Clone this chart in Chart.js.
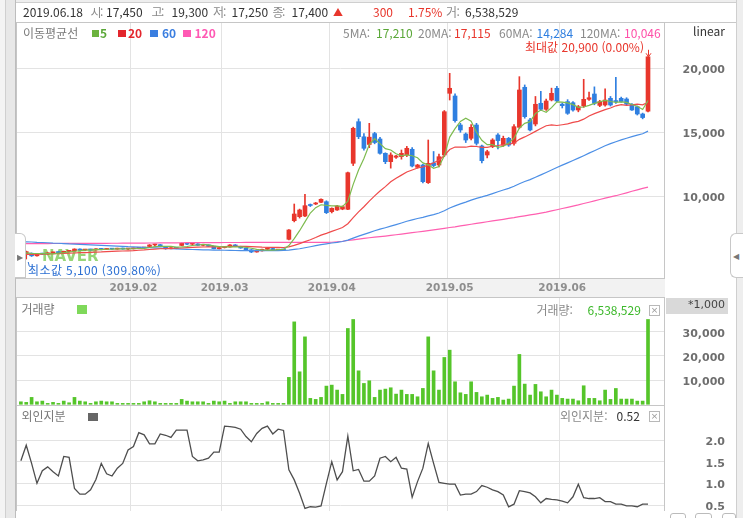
<!DOCTYPE html>
<html lang="ko"><head><meta charset="utf-8">
<script src="https://cdn.jsdelivr.net/npm/chart.js@4.4.1/dist/chart.umd.min.js"></script>
<style>
*{box-sizing:border-box}
html,body{margin:0;padding:0;background:#fff;}
#wrap{position:relative;width:743px;height:518px;overflow:hidden;background:#fff;}
.bg{position:absolute;}
canvas{position:absolute;left:0;z-index:2;}
.t{position:absolute;z-index:4;font-family:"Noto Sans CJK KR","Noto Sans",sans-serif;font-size:12px;line-height:14px;white-space:nowrap;}
.sq{position:absolute;z-index:4;}
.xb{position:absolute;z-index:4;width:11px;height:11px;border:1px solid #b8b8b8;background:#fff;font:9px/9px "DejaVu Sans";color:#999;text-align:center;}
.tab{position:absolute;z-index:5;background:#fff;border:1px solid #c8c8c8;font:8px/8px "DejaVu Sans";color:#777;}
</style></head><body><div id="wrap">
 <div class="bg" style="left:0;top:0;width:743px;height:3px;background:#eeeeee;border-bottom:1px solid #cfcfcf"></div>
 <div class="bg" style="left:0;top:0;width:6px;height:518px;background:#f4f4f4;border-right:1px solid #d0d0d0"></div>
 <div class="bg" style="left:6px;top:0;width:10px;height:518px;background:#e8e8e8;border-right:1px solid #bdbdbd"></div>
 <div class="bg" style="left:736px;top:0;width:7px;height:518px;background:#eeeeee;border-left:1px solid #cfcfcf"></div>
 <div class="bg" style="left:16px;top:22px;width:720px;height:1px;background:#c8c8c8"></div>
 <div class="bg" style="left:16px;top:278px;width:649px;height:19px;background:#f2f2f2"></div>
 <div class="bg" style="left:666px;top:298px;width:62px;height:16px;background:#d9d9d9;z-index:3"></div>
 <canvas id="cMain" width="743" height="300" style="top:0"></canvas>
 <canvas id="cVol" width="743" height="108" style="top:297px"></canvas>
 <canvas id="cFrg" width="743" height="106" style="top:405px"></canvas>
 <div class="tab" style="left:15px;top:233px;width:11px;height:45px;border-left:none;border-radius:0 6px 0 0;padding:20px 0 0 2px">&#9654;</div>
 <div class="tab" style="left:730px;top:233px;width:13px;height:45px;border-right:none;border-radius:6px 0 0 6px;padding:19px 0 0 2px">&#9664;</div>
 <div class="bg" style="left:670px;top:513px;width:16px;height:8px;border:1px solid #bbb;border-radius:3px;z-index:3"></div>
 <div class="bg" style="left:695px;top:513px;width:17px;height:8px;border:1px solid #bbb;border-radius:3px;z-index:3"></div>
 <div class="bg" style="left:722px;top:513px;width:14px;height:8px;border:1px solid #bbb;border-radius:3px;z-index:3"></div>
</div>
<script>
// ---------------- DATA ----------------
const dates = [
 "2019.01.03","2019.01.04","2019.01.07","2019.01.08","2019.01.09","2019.01.10","2019.01.11","2019.01.14","2019.01.15","2019.01.16",
 "2019.01.17","2019.01.18","2019.01.21","2019.01.22","2019.01.23","2019.01.24","2019.01.25","2019.01.28","2019.01.29","2019.01.30","2019.01.31",
 "2019.02.01","2019.02.07","2019.02.08","2019.02.11","2019.02.12","2019.02.13","2019.02.14","2019.02.15","2019.02.18","2019.02.19",
 "2019.02.20","2019.02.21","2019.02.22","2019.02.25","2019.02.26","2019.02.27","2019.02.28",
 "2019.03.04","2019.03.05","2019.03.06","2019.03.07","2019.03.08","2019.03.11","2019.03.12","2019.03.13","2019.03.14","2019.03.15",
 "2019.03.18","2019.03.19","2019.03.20","2019.03.21","2019.03.22","2019.03.25","2019.03.26","2019.03.27","2019.03.28","2019.03.29",
 "2019.04.01","2019.04.02","2019.04.03","2019.04.04","2019.04.05","2019.04.08","2019.04.09","2019.04.10","2019.04.11","2019.04.12",
 "2019.04.15","2019.04.16","2019.04.17","2019.04.18","2019.04.19","2019.04.22","2019.04.23","2019.04.24","2019.04.25","2019.04.26","2019.04.29","2019.04.30",
 "2019.05.02","2019.05.03","2019.05.07","2019.05.08","2019.05.09","2019.05.10","2019.05.13","2019.05.14","2019.05.15","2019.05.16",
 "2019.05.17","2019.05.20","2019.05.21","2019.05.22","2019.05.23","2019.05.24","2019.05.27","2019.05.28","2019.05.29","2019.05.30","2019.05.31",
 "2019.06.03","2019.06.04","2019.06.05","2019.06.07","2019.06.10","2019.06.11","2019.06.12","2019.06.13","2019.06.14","2019.06.17",
 "2019.06.18","2019.06.19","2019.06.20","2019.06.21","2019.06.24","2019.06.25","2019.06.26"
];
const openP = [
 5550,5500,5550,5350,5500,5480,5580,5620,5600,5700, 5740,5880,5800,5840,5810,5900,5850,5910,5870,5930,
 5880,5900,5940,5960,6080,6200,6220,6060,5900,5970, 6160,6330,6260,6280,6170,6200,6100,5900,5990,6040,
 6200,6080,5960,5820,5650,5740,5860,5920,5800,5840, 6640,8094,8406,8461,9350,9400,9531,9578,8800,8930,
 9000,8984,12578,15828,14650,14050,14900,14477,13359,12703, 13050,13094,13227,13672,12265,12445,11063,12600,12445,13227,
 18047,17836,15570,14867,14531,15570,13930,13227,13875,14789, 14000,14531,14140,15391,18516,15961,15648,17266,16797,17523,
 18438,17200,17395,17312,16742,17055,17578,17992,17100,17133, 17656,17450,17656,17600,17188,17000,16430,16650
];
const highP = [
 5650,5720,5580,5520,5560,5600,5650,5660,5720,5760, 5900,5900,5860,5870,5920,5930,5930,5940,5950,5960,
 5920,5960,5990,6020,6230,6270,6240,6080,5990,6000, 6350,6380,6300,6300,6220,6210,6120,6010,6060,6220,
 6230,6100,5980,5840,5760,5880,5940,5940,5860,5870, 7400,9398,9000,10156,9400,9520,9800,9650,9100,9300,
 9250,11900,15400,16050,14900,15700,15000,14600,13400,13400, 13200,13617,13900,13800,12500,12500,14398,13500,13300,16700,
 19609,18000,15700,14950,15600,15700,14000,13600,14500,14900, 14700,14600,15600,19347,18700,16100,17800,18200,17600,18450,
 18600,17300,17550,17400,17100,19141,18150,18550,17500,18400, 17800,19300,17750,17700,17250,17050,16500,20900
];
const lowP = [
 5500,5100,5300,5330,5450,5460,5550,5560,5580,5660, 5720,5780,5760,5780,5800,5820,5840,5850,5860,5860,
 5840,5880,5900,5930,6050,6150,6060,5860,5880,5900, 6140,6230,6180,6150,6120,6080,5880,5880,5960,6020,
 6060,5940,5800,5600,5630,5720,5840,5780,5780,5780, 6600,8000,8300,8400,9200,9350,9500,8650,8700,8900,
 8950,8950,12400,14500,13600,13800,14100,13300,12550,12200, 12950,12900,13100,12300,12200,11050,11000,12300,12300,13100,
 17523,15800,15000,14200,14400,14000,12600,13000,13800,13700, 13900,13900,14000,15300,16100,15100,15500,16700,16700,17450,
 17400,16900,16400,16650,16600,16950,17500,17150,17000,17050, 17050,17250,17350,17150,16700,16350,16050,16600
];
const closeP = [
 5600,5680,5350,5500,5480,5580,5620,5600,5700,5740, 5880,5800,5840,5810,5900,5850,5910,5870,5930,5880,
 5900,5940,5960,5990,6200,6250,6080,5900,5970,5930, 6330,6260,6280,6170,6200,6100,5900,5990,6040,6200,
 6080,5960,5820,5650,5740,5860,5920,5800,5840,5810, 7370,8617,8930,9266,9280,9460,9766,8719,9063,9240,
 9188,11844,15313,14656,13750,14620,14200,13359,12703,13227, 13150,13359,13750,12367,12445,11141,12578,12400,13094,16609,
 18438,15906,15180,14398,15391,14140,12781,13484,14398,14350, 14531,14000,15440,18305,16219,15180,17188,16797,17445,18047,
 17445,17080,16484,16742,17000,17578,17700,17266,17400,17523, 17133,17400,17400,17200,16742,16430,16150,20900
];
const ma5 = [
 5560,5580,5540,5530,5522,5518,5506,5556,5596,5648, 5708,5744,5792,5814,5846,5840,5862,5868,5892,5888,
 5898,5904,5922,5934,5998,6068,6096,6084,6080,6026, 6042,6078,6154,6194,6248,6202,6130,6072,6046,6046,
 6042,6054,6020,5942,5850,5806,5798,5794,5832,5846, 6148,6687,7313,7999,8693,9111,9340,9298,9258,9250,
 9195,9611,10930,12048,12950,14037,14508,14117,13726,13622, 13328,13160,13238,13171,13014,12612,12456,12186,12332,13164,
 14624,15289,15845,16106,15863,15003,14378,14039,14039,13831, 13909,14153,14544,15325,15699,15829,16466,16738,16566,16931,
 17384,17363,17300,17160,16950,16977,17101,17257,17389,17493, 17404,17344,17371,17331,17175,17034,16784,17484
];
const ma20 = [
 5450,5462,5466,5481,5489,5503,5517,5528,5546,5561, 5572,5593,5604,5622,5641,5657,5683,5698,5714,5726,
 5741,5754,5785,5809,5845,5879,5902,5917,5930,5940, 5962,5985,6007,6025,6040,6053,6052,6058,6064,6080,
 6089,6090,6083,6066,6043,6023,6015,6010,6004,5998, 6050,6167,6300,6455,6609,6777,6970,7106,7258,7410,
 7565,7859,8334,8784,9185,9623,10037,10415,10758,11129, 11418,11655,11896,12051,12209,12293,12434,12618,12819,13188,
 13650,13853,13847,13834,13916,13892,13821,13827,13912,13968, 14037,14069,14154,14450,14639,14841,15072,15291,15509,15581,
 15531,15590,15655,15772,15853,16025,16271,16460,16610,16769, 16899,17069,17167,17111,17138,17200,17148,17353
];
const ma60 = [
 6450,6445,6430,6405,6390,6370,6345,6330,6310,6285, 6270,6250,6225,6205,6190,6170,6145,6125,6110,6090,
 6065,6050,6025,6005,5990,5965,5945,5930,5910,5890, 5875,5860,5845,5835,5820,5810,5800,5795,5785,5775,
 5765,5760,5755,5750,5748,5750,5752,5756,5762,5772, 5800,5850,5900,5980,6060,6140,6220,6290,6350,6405,
 6470,6575,6735,6885,7020,7165,7305,7430,7545,7670, 7790,7915,8048,8157,8266,8353,8465,8574,8695,8874,
 9083,9250,9404,9545,9701,9836,9950,10075,10214,10354, 10493,10624,10780,10983,11153,11305,11492,11671,11860,12059,
 12249,12433,12609,12792,12979,13174,13373,13563,13756,13952, 14115,14261,14404,14536,14661,14777,14887,15090
];
const ma120 = [
 6300,6302,6305,6306,6308,6310,6311,6313,6315,6316, 6318,6320,6321,6323,6325,6327,6329,6331,6333,6335,
 6338,6341,6344,6347,6350,6353,6356,6360,6364,6368, 6372,6375,6378,6380,6382,6384,6386,6388,6389,6390,
 6391,6392,6393,6394,6395,6396,6396,6397,6397,6398, 6398,6399,6399,6400,6400,6400,6401,6401,6410,6450,
 6490,6545,6602,6655,6708,6762,6803,6844,6893,6946, 6997,7048,7103,7156,7211,7263,7322,7378,7441,7500,
 7562,7618,7686,7748,7816,7881,7943,8012,8074,8141, 8203,8271,8333,8406,8473,8547,8613,8687,8758,8856,
 8948,9047,9138,9237,9328,9436,9538,9647,9748,9857, 9958,10046,10162,10273,10392,10503,10622,10718
];
// volume, in thousands of shares
const volume = [
 1030,790,2850,1030,1320,370,790,370,1320,620, 2850,1320,1030,370,1030,1320,1030,1030,370,370,
 370,370,370,1030,1450,1030,370,370,370,370, 2020,1320,1030,1030,1030,370,1320,1030,1320,370,
 1030,1030,1030,370,370,370,1030,370,370,370, 11120,34090,13430,27890,2440,2020,2850,7520,7930,5870,
 4090,31360,35080,13840,8620,9720,2850,5870,6280,6830, 4210,5870,4090,4090,3100,6560,27890,13840,5870,19370,
 22390,9300,4750,4090,9300,4910,3100,3800,2440,2850, 1740,2150,7520,20620,8350,3800,8220,5170,3100,5870,
 3800,2440,2150,2150,1450,7660,2440,2440,1450,5870, 2020,6539,2150,2150,2150,1320,1320,35080
];
// foreign ownership ratio (%)
const foreignRatio = [
 1.52,1.88,1.46,1.00,1.29,1.38,1.27,1.17,1.62,1.60, 0.88,0.75,0.75,0.85,1.09,1.46,1.22,1.17,1.35,1.46,
 1.77,1.85,2.17,2.12,1.91,1.91,2.14,2.11,2.06,2.23, 2.23,2.23,1.62,1.52,1.54,1.58,1.72,1.72,2.32,2.31,
 2.29,2.25,2.08,1.96,2.15,2.27,2.32,2.14,2.25,2.22, 1.31,1.08,0.77,0.42,0.46,0.45,0.48,1.00,1.50,1.08,
 1.27,2.09,1.29,1.32,1.05,1.05,1.17,1.58,1.62,1.50, 1.60,1.35,1.33,0.68,1.04,1.35,1.92,1.46,1.02,1.00,
 0.98,0.98,0.73,0.75,0.75,0.81,0.95,0.91,0.85,0.81, 0.73,0.46,0.52,0.83,0.81,0.78,0.69,0.55,0.65,0.63,
 0.62,0.59,0.55,0.69,0.98,0.67,0.65,0.65,0.67,0.58, 0.58,0.52,0.52,0.48,0.48,0.46,0.52,0.52
];
const priceTicks = [10000, 15000, 20000];
const volumeTicks = [10000, 20000, 30000];
const foreignTicks = [0.5, 1.0, 1.5, 2.0];

// ---------------- CHARTS ----------------
[openP,highP,lowP,closeP,ma5,ma20,ma60,ma120,volume,foreignRatio].forEach((a,k)=>{ if(a.length!==dates.length) throw new Error('len '+k+' '+a.length); });
openP.forEach((o,i)=>{ if(highP[i]<Math.max(o,closeP[i])||lowP[i]>Math.min(o,closeP[i])) throw new Error('ohlc '+i); });

const UP = '#e8362c', DOWN = '#2f7fe0';
const X_MIN = -0.91, X_MAX = 120.17;
const idx = dates.map((d,i)=>i);
const candleCol = closeP.map((c,i)=> c>=openP[i] ? UP : DOWN);
const monthTicks = [], monthLabels = [];
for (let i=1;i<dates.length;i++){ if(dates[i].slice(0,7)!==dates[i-1].slice(0,7)){ monthTicks.push(i-0.5); monthLabels.push(dates[i].slice(0,7)); } }

const AXFONT = {family:'DejaVu Sans', size:11, weight:'bold'};
function noPad(s){ s.paddingTop=0; s.paddingBottom=0; s.paddingLeft=0; s.paddingRight=0; }

function xScale(showLabels){
  return {type:'linear', min:X_MIN, max:X_MAX, offset:false,
    afterBuildTicks: s => { s.ticks = monthTicks.map(v=>({value:v})); },
    afterFit: s => { s.height = showLabels ? 20 : 0; noPad(s); },
    grid:{color:'#e3e3e3', drawTicks:false, offset:false},
    border:{display:false},
    ticks:{display:showLabels, autoSkip:false, maxRotation:0, padding:4, labelOffset:2.7,
      font:{family:'DejaVu Sans', size:10.5, weight:'bold'}, color:'#8e8e8e',
      callback:(v)=>{ const k=monthTicks.indexOf(v); return k>=0?monthLabels[k]:''; }}
  };
}
function yScale(min,max,ticksArr,fmt){
  return {type:'linear', position:'right', min, max, beginAtZero:false,
    afterBuildTicks: s => { s.ticks = ticksArr.map(v=>({value:v})); },
    afterFit: s => { s.width = 60; noPad(s); },
    grid:{color:'#e3e3e3', drawTicks:false},
    border:{display:false},
    ticks:{padding:0, crossAlign:'far', labelOffset:2, font:AXFONT, color:'#6e6e6e', callback: v=>fmt(v)}
  };
}
const frame = {id:'frame', afterDraw(ch){ const a=ch.chartArea, c=ch.ctx; c.save(); c.strokeStyle='#c6c6c6'; c.lineWidth=1;
  c.strokeRect(Math.round(a.left)+0.5, Math.round(a.top)+0.5, Math.round(a.right-a.left)-1, Math.round(a.bottom-a.top)); c.restore(); }};
const common = {responsive:false, animation:false, events:[], plugins:{legend:{display:false}, tooltip:{enabled:false}}};

const watermark = {id:'wm', beforeDatasetsDraw(ch){ const c=ch.ctx; c.save(); c.globalAlpha=0.8; c.fillStyle='#7ccb55';
  c.font='bold 15px "DejaVu Sans"'; c.fillText('NAVER', 42, 261); c.restore(); }};
const maxMark = {id:'mx', afterDatasetsDraw(ch){
  const xs=ch.scales.x, ys=ch.scales.y, c=ch.ctx;
  let mi=0; highP.forEach((v,i)=>{ if(v>highP[mi]) mi=i; });
  const x=Math.round(xs.getPixelForValue(mi))+0.5, y=ys.getPixelForValue(highP[mi]);
  c.save(); c.strokeStyle='#e8362c'; c.lineWidth=1;
  c.beginPath(); c.moveTo(x, y-7); c.lineTo(x, y-1); c.stroke();
  c.beginPath(); c.moveTo(x-2.5, y-3.5); c.lineTo(x, y); c.lineTo(x+2.5, y-3.5); c.stroke();
  let ni=0; lowP.forEach((v,i)=>{ if(v<lowP[ni]) ni=i; });
  const nx=xs.getPixelForValue(ni), ny=ys.getPixelForValue(lowP[ni]);
  c.strokeStyle='#2b6fd3'; c.beginPath(); c.moveTo(nx+2, ny+3); c.lineTo(nx+3, ny+7); c.stroke();
  c.restore(); }};

const line = (arr,col,ord)=>({type:'line', data: arr.map((v,i)=>({x:i,y:v})), borderColor:col, borderWidth:1.2, pointRadius:0, tension:0, order:ord});
new Chart(document.getElementById('cMain'), {
  type:'bar',
  data:{datasets:[
    line(ma5,'#7dbb4f',0), line(ma20,'#ef4b4b',0.1), line(ma60,'#4c8fe6',0.2), line(ma120,'#ff5fb0',0.3),
    {type:'bar', data: idx.map(i=>({x:i, y:[openP[i], closeP[i]]})), backgroundColor:candleCol, barThickness:4, minBarLength:1, grouped:false, order:1},
    {type:'bar', data: idx.map(i=>({x:i, y:[lowP[i], highP[i]]})), backgroundColor:candleCol, barThickness:1, grouped:false, order:2}
  ]},
  options:{...common, layout:{padding:{left:16, right:18, top:22, bottom:2}},
    scales:{x:xScale(true), y:yScale(3617, 23617, priceTicks, v=>v.toLocaleString('en-US'))}},
  plugins:[watermark, frame, maxMark]
});
new Chart(document.getElementById('cVol'), {
  type:'bar',
  data:{datasets:[{data: idx.map(i=>({x:i, y:volume[i]})), backgroundColor:'#55c52a', barThickness:3, grouped:false}]},
  options:{...common, layout:{padding:{left:16, right:18, top:0, bottom:0}},
    scales:{x:xScale(false), y:yScale(-300, 44380, volumeTicks, v=>v.toLocaleString('en-US'))}},
  plugins:[frame]
});
new Chart(document.getElementById('cFrg'), {
  type:'line',
  data:{datasets:[{data: idx.map(i=>({x:i, y:foreignRatio[i]})), borderColor:'#4e4e4e', borderWidth:1.3, pointRadius:0, tension:0}]},
  options:{...common, layout:{padding:{left:16, right:18, top:0, bottom:0}},
    scales:{x:xScale(false), y:yScale(0.362, 2.808, foreignTicks, v=>v.toFixed(1))}},
  plugins:[frame]
});

// ---------------- TEXT ----------------
const wrap = document.getElementById('wrap');
function T(x, cy, s, color, st){ const d=document.createElement('div'); d.className='t'; d.textContent=s;
  d.style.left=x+'px'; d.style.top=(cy-8)+'px'; d.style.color=color; if(st) Object.assign(d.style, st); wrap.appendChild(d); return d; }
function TR(xr, cy, s, color, st){ const d=T(0,cy,s,color,st); d.style.left=(xr-d.offsetWidth)+'px'; return d; }
function SQ(x,y,w,h,col){ const d=document.createElement('div'); d.className='sq'; Object.assign(d.style,{left:x+'px',top:y+'px',width:w+'px',height:h+'px',background:col}); wrap.appendChild(d); }
function XB(x,y){ const d=document.createElement('div'); d.className='xb'; d.style.left=x+'px'; d.style.top=y+'px'; d.textContent='×'; wrap.appendChild(d); }
const G='#8a8a8a', D='#333';
// header
T(23,12.5,'2019.06.18',D);
T(90.5,12.5,'시',G); T(100,12.5,':',G); T(106,12.5,'17,450',D);
T(151.5,12.5,'고',G); T(161,12.5,':',G); T(171.5,12.5,'19,300',D);
T(213,12.5,'저',G); T(223,12.5,':',G); T(231.5,12.5,'17,250',D);
T(272.5,12.5,'종',G); T(282,12.5,':',G); T(291.5,12.5,'17,400',D);
T(333,12.5,'▲','#e8362c',{fontSize:'10px'});
T(373,12.5,'300','#e8362c'); T(408,12.5,'1.75%','#e8362c');
T(446,12.5,'거',G); T(456.5,12.5,':',G); T(465,12.5,'6,538,529',D);
// MA legend
T(23,33.5,'이동평균선','#7a7a7a');
SQ(92,30,7,7,'#6cb33e'); T(100,33.5,'5','#5aa737',{fontWeight:'bold'});
SQ(118,30,8,7,'#e3262d'); T(128,33.5,'20','#e3262d',{fontWeight:'bold'});
SQ(150,30,8,7,'#3a7ee0'); T(162,33.5,'60','#3a7ee0',{fontWeight:'bold'});
SQ(183,30,8,7,'#ff59b4'); T(194.5,33.5,'120','#ff59b4',{fontWeight:'bold'});
T(343,33.5,'5MA:',G); T(376,33.5,'17,210','#5aa737');
T(418,33.5,'20MA:',G); T(454,33.5,'17,115','#e8362c');
T(499,33.5,'60MA:',G); T(536.5,33.5,'14,284','#2f7fe0');
T(580,33.5,'120MA:',G); T(624,33.5,'10,046','#ff4fa8');
TR(725,32,'linear','#333');
T(525,48,'최대값 20,900 (0.00%)','#e8362c');
T(28,270.5,'최소값 5,100 (309.80%)','#2b6fd3',{letterSpacing:'0.4px'});
// volume panel
T(21.5,310,'거래량','#7a7a7a'); SQ(77,305,10,9,'#7fd95a');
T(536.5,310.5,'거래량:',G); T(587.5,310.5,'6,538,529','#3cb82a'); XB(649,305);
TR(725,306,'*1,000','#444',{fontFamily:'"DejaVu Sans"',fontSize:'11px'});
// foreign panel
T(21.5,417,'외인지분','#7a7a7a'); SQ(88,413,10,8,'#666');
T(560,417,'외인지분:',G); T(616.5,417,'0.52','#333'); XB(649,411);
</script></body></html>
